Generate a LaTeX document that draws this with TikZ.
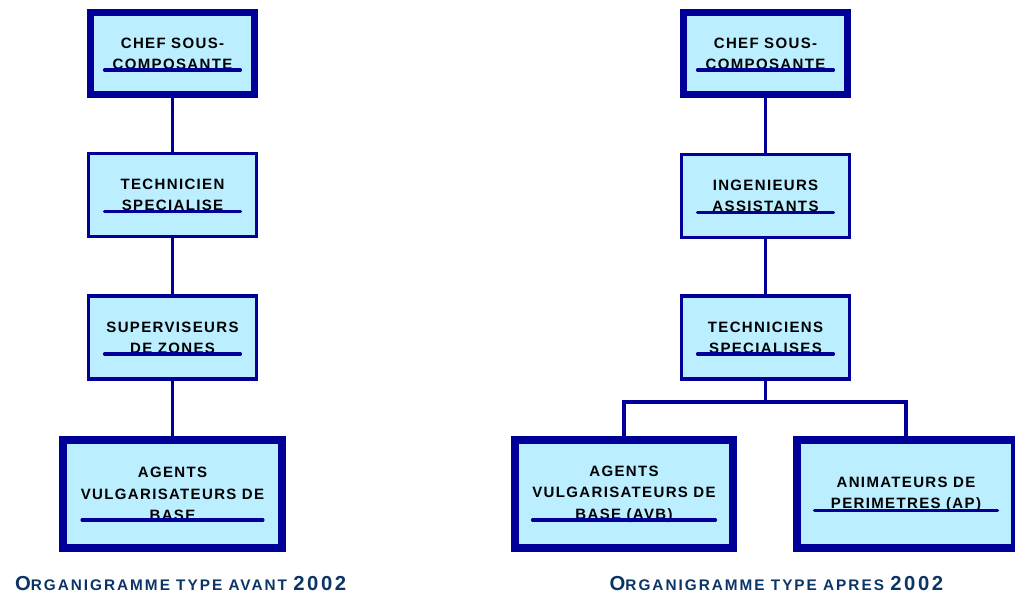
\documentclass[tikz,border=0pt]{standalone}
\usepackage{fontspec}
\setmainfont{Liberation Sans}
\newfontfamily\boitefont[LetterSpace=9]{Liberation Sans}
\newfontfamily\titrefont[LetterSpace=13]{Liberation Sans}
\usepackage{tikz}
\usetikzlibrary{positioning}
\definecolor{OG-bleu}{HTML}{000099}
\definecolor{OG-ciel}{HTML}{BBEEFF}
\definecolor{OG-titre}{HTML}{0B3467}
\newcommand{\gros}[1]{{\fontsize{15.2pt}{17pt}\selectfont #1}}
\newcommand{\petit}[1]{{\fontsize{11.5pt}{13pt}\selectfont #1}}

\begin{document}
\begin{tikzpicture}[x=0.75pt,y=-0.75pt,
  boite/.style={draw=OG-bleu,fill=OG-ciel,line width=2.6pt,align=center,
    inner sep=0pt,minimum width=126pt,minimum height=62pt,
    font=\boitefont\bfseries\fontsize{11.25pt}{16pt}\selectfont},
  grosse/.style={boite,line width=5.4pt,minimum width=123pt,minimum height=61.5pt},
  large/.style={boite,line width=6pt,minimum width=164pt,minimum height=81pt},
  trait/.style={draw=OG-bleu,line width=2.6pt},
  soulign/.style={draw=OG-bleu,line width=2.3pt,line cap=round},
  titre/.style={text=OG-titre,font=\titrefont\bfseries}]

\useasboundingbox (0,0) rectangle (1015,594);

% avant 2002
\node[grosse] (chefA) at (172.5,53.5) {CHEF SOUS-\\COMPOSANTE};
\node[boite] (techA) at (172.5,195) {TECHNICIEN\\SPECIALISE};
\node[boite] (superA) at (172.5,337.5) {SUPERVISEURS\\DE ZONES};
\node[large] (agentsA) at (172.5,494) {AGENTS\\VULGARISATEURS DE\\BASE};

\draw[trait] (chefA.south) -- (techA.north);
\draw[trait] (techA.south) -- (superA.north);
\draw[trait] (superA.south) -- (agentsA.north);

% apres 2002
\node[grosse] (chefB) at (765.5,53.5) {CHEF SOUS-\\COMPOSANTE};
\node[boite] (ingB) at (765.5,196) {INGENIEURS\\ASSISTANTS};
\node[boite] (techB) at (765.5,337.5) {TECHNICIENS\\SPECIALISES};
\node[large] (agentsB) at (624,494) {AGENTS\\VULGARISATEURS DE\\BASE (AVB)};
\node[large] (animB) at (906,494) {ANIMATEURS DE\\PERIMETRES (AP)};

\coordinate (barre) at (765.5,402);
\draw[trait] (chefB.south) -- (ingB.north);
\draw[trait] (ingB.south) -- (techB.north);
\draw[trait] (techB.south) -- (barre);
\draw[trait] (agentsB.north) |- (barre) -| (animB.north);

% traits sous la derniere ligne
\foreach \n/\w/\d in {chefA/136/16.5, techA/136/16.5, superA/136/16.5, agentsA/181/26,
    chefB/136/16.5, ingB/136/16.5, techB/136/16.5, agentsB/183/26, animB/183/16.5}
  \draw[soulign] ([shift={(-\w/2,\d)}]\n.center) -- ([shift={(\w/2,\d)}]\n.center);

\node[titre,anchor=base east] (titreA) at (351,590) {\gros{O}\petit{RGANIGRAMME TYPE AVANT }\gros{2002}};
\node[titre,anchor=base west] (titreB) at (605,590) {\gros{O}\petit{RGANIGRAMME TYPE APRES }\gros{2002}};

\end{tikzpicture}
\end{document}
